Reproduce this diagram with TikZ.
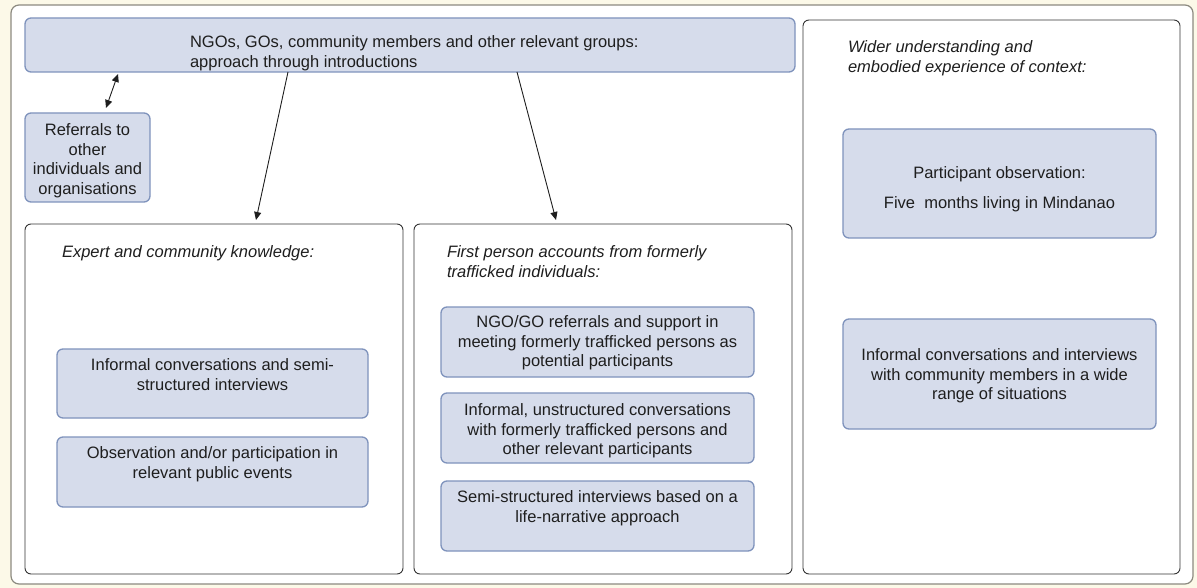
\documentclass[tikz,border=0pt]{standalone}
\usepackage{fontspec}
\setmainfont{Liberation Sans}
\usetikzlibrary{arrows.meta,calc}
\definecolor{bfill}{HTML}{D6DCEB}
\definecolor{bline}{HTML}{7F93BC}
\definecolor{txt}{HTML}{1E1E1E}
\definecolor{cream}{HTML}{FCF9E8}
\definecolor{framec}{HTML}{8C8A80}
\newcommand{\bxt}[4]{\parbox[t][#2][t]{#1}{\centering\vspace*{#3}#4\par}}
\newcommand{\bxl}[5]{\parbox[t][#2][t]{#1}{\raggedright\leftskip=#3\relax\vspace*{#4}#5\par}}
\tikzset{
  base/.style={anchor=north west, inner sep=0pt, outer sep=0pt, text=txt,
    font=\fontsize{16.5}{19.5}\selectfont},
  colbox/.style={base, draw=black!80, line width=0.9pt, rounded corners=6pt, fill=white},
  bluebox/.style={base, draw=bline, fill=bfill, line width=1.3pt, rounded corners=6pt},
  arr/.style={draw=txt, line width=0.9pt, -{Triangle[length=8pt,width=7pt]}},
  darr/.style={draw=txt, line width=0.9pt, {Triangle[length=8pt,width=7pt]}-{Triangle[length=8pt,width=7pt]}}
}
\begin{document}
\begin{tikzpicture}[x=1pt,y=-1pt]
\useasboundingbox (0,0) rectangle (1197,588);
\fill[cream] (0,0) rectangle (1197,588);
\draw[framec, line width=1.2pt, rounded corners=8pt, fill=white] (11,5) rectangle (1193,584);

% columns
\node[colbox] (c1) at (25,224) {\bxl{378pt}{350pt}{37pt}{22pt}{\itshape Expert and community knowledge:}};
\node[colbox] (c2) at (414,224) {\bxl{378pt}{350pt}{33pt}{22pt}{\itshape First person accounts from formerly\\trafficked individuals:}};
\node[colbox] (c3) at (803,20) {\bxl{377pt}{554pt}{45pt}{21pt}{\itshape Wider understanding and\\embodied experience of context:}};

% top and referrals
\node[bluebox] (top) at (25,18) {\bxl{770pt}{54pt}{165pt}{18pt}{NGOs, GOs, community members and other relevant groups:\\approach through introductions}};
\node[bluebox] (ref) at (25,113) {\bxt{125pt}{89pt}{11pt}{Referrals to\\other\\individuals and\\organisations}};

% left column items
\node[bluebox] (l1) at (57,349) {\bxt{311pt}{69pt}{10pt}{Informal conversations and semi-\\structured interviews}};
\node[bluebox] (l2) at (57,437) {\bxt{311pt}{70pt}{10pt}{Observation and/or participation in\\relevant public events}};

% middle column items
\node[bluebox] (m1) at (441,307) {\bxt{313pt}{70pt}{9pt}{NGO/GO referrals and support in\\meeting formerly trafficked persons as\\potential participants}};
\node[bluebox] (m2) at (441,393) {\bxt{313pt}{70pt}{11pt}{Informal, unstructured conversations\\with formerly trafficked persons and\\other relevant participants}};
\node[bluebox] (m3) at (441,481) {\bxt{313pt}{70pt}{10pt}{Semi-structured interviews based on a\\life-narrative approach}};

% right column items
\node[bluebox] (r1) at (843,129) {\bxt{313pt}{109pt}{38pt}{Participant observation:\\[10.5pt]Five\ \ months living in Mindanao}};
\node[bluebox] (r2) at (843,319) {\bxt{313pt}{110pt}{30pt}{Informal conversations and interviews\\with community members in a wide\\range of situations}};

% connectors
\draw[darr] ($(top.south west)+(93,2)$) -- ($(ref.north west)+(81,-5)$);
\draw[arr] ($(top.south west)+(263,0)$) -- ($(c1.north west)+(231,-4)$);
\draw[arr] ($(top.south west)+(492,0)$) -- ($(c2.north west)+(142,-4)$);
\end{tikzpicture}
\end{document}
